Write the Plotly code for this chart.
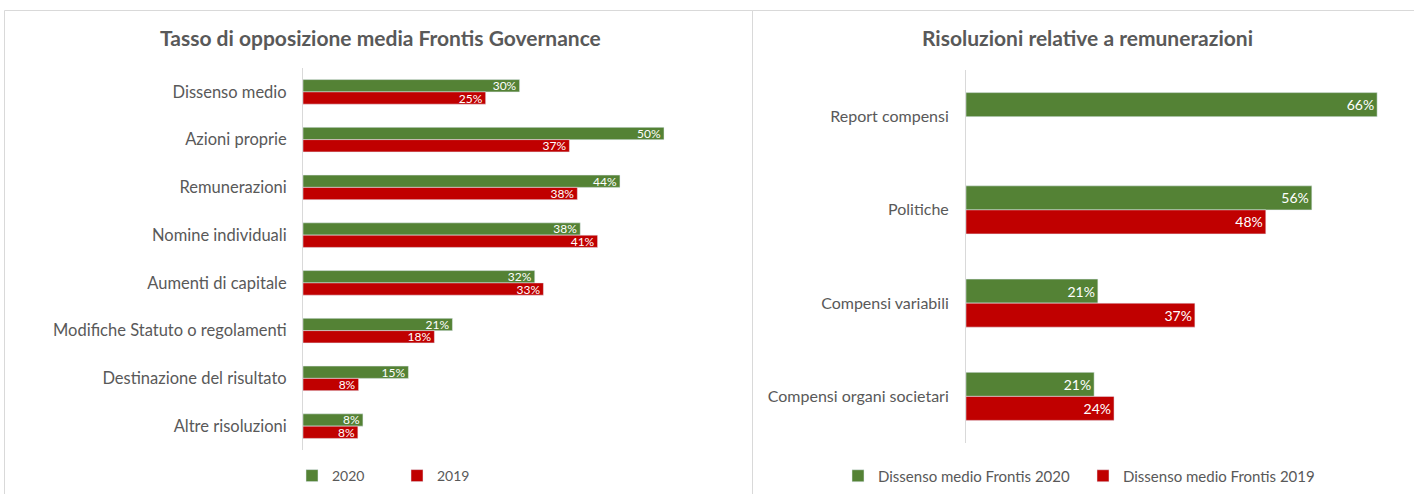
import plotly.graph_objects as go

# ---- data ----
cats_left = ["Dissenso medio", "Azioni proprie", "Remunerazioni", "Nomine individuali",
             "Aumenti di capitale", "Modifiche Statuto o regolamenti",
             "Destinazione del risultato", "Altre risoluzioni"]
left_2020 = [0.300, 0.500, 0.439, 0.384, 0.321, 0.207, 0.146, 0.083]
left_2019 = [0.253, 0.369, 0.380, 0.408, 0.333, 0.182, 0.077, 0.076]

cats_right = ["Report compensi", "Politiche", "Compensi variabili", "Compensi organi societari"]
right_2020 = [0.661, 0.556, 0.212, 0.206]
right_2019 = [None, 0.482, 0.368, 0.238]

title_left = "Tasso di opposizione media Frontis Governance"
title_right = "Risoluzioni relative a remunerazioni"
names_left = ["2020", "2019"]
names_right = ["Dissenso medio Frontis 2020", "Dissenso medio Frontis 2019"]

# ---- style ----
W, H = 1414, 494
GREEN = "#548235"
RED = "#C00000"
GREY = "#595959"
LINE = "#D9D9D9"
FONT = "Lato"

def px(x):
    return x / W

def py(y):
    return 1 - y / H

def bar(y, x, name, color, xa, ya, leg, size):
    return go.Bar(y=y, x=x, name=name, orientation="h", marker_color=color,
                  xaxis=xa, yaxis=ya, legend=leg,
                  texttemplate="%{x:.0%}", textposition="inside", insidetextanchor="end",
                  textfont=dict(color="white", size=size, family=FONT), cliponaxis=False)

fig = go.Figure()
fig.add_trace(bar(cats_left, left_2020, names_left[0], GREEN, "x", "y", "legend", 12))
fig.add_trace(bar(cats_left, left_2019, names_left[1], RED, "x", "y", "legend", 12))
fig.add_trace(bar(cats_right, right_2020, names_right[0], GREEN, "x2", "y2", "legend2", 14))
fig.add_trace(bar(cats_right, right_2019, names_right[1], RED, "x2", "y2", "legend2", 14))

fig.update_layout(
    width=W, height=H,
    margin=dict(l=0, r=0, t=0, b=0),
    paper_bgcolor="white", plot_bgcolor="white",
    font=dict(family=FONT, color=GREY, size=16),
    barmode="group", bargap=0.485, bargroupgap=0,
    uniformtext=dict(minsize=12, mode="show"),
    xaxis=dict(domain=[px(303), px(303 + 0.6 * 722)], range=[0, 0.6],
               visible=False, showgrid=False, zeroline=False),
    yaxis=dict(domain=[py(450), py(68)], autorange="reversed", showline=True,
               linecolor=LINE, linewidth=1, showgrid=False, ticks="",
               ticklabelstandoff=12, tickfont=dict(size=16.5, color=GREY, family=FONT)),
    xaxis2=dict(domain=[px(966), px(966 + 0.7 * 622)], range=[0, 0.7], anchor="y2",
                visible=False, showgrid=False, zeroline=False),
    yaxis2=dict(domain=[py(443), py(70)], anchor="x2", autorange="reversed", showline=True,
                linecolor=LINE, linewidth=1, showgrid=False, ticks="",
                ticklabelstandoff=13, tickfont=dict(size=16, color=GREY, family=FONT)),
    legend=dict(orientation="h", x=px(292), y=py(476), xanchor="left", yanchor="middle",
                font=dict(size=14, color=GREY, family=FONT), entrywidth=60,
                bgcolor="rgba(0,0,0,0)"),
    legend2=dict(orientation="h", x=px(838), y=py(476), xanchor="left", yanchor="middle",
                 font=dict(size=15, color=GREY, family=FONT), entrywidth=200,
                 bgcolor="rgba(0,0,0,0)"),
    shapes=[
        dict(type="rect", xref="paper", yref="paper", x0=px(4.5), x1=px(752.5),
             y0=py(520), y1=py(10.5), line=dict(color=LINE, width=1), layer="below"),
        dict(type="rect", xref="paper", yref="paper", x0=px(752.5), x1=px(1430),
             y0=py(520), y1=py(10.5), line=dict(color=LINE, width=1), layer="below"),
    ],
    annotations=[
        dict(text="<b>" + title_left + "</b>", xref="paper", yref="paper", x=px(381), y=py(38),
             xanchor="center", yanchor="middle", showarrow=False,
             font=dict(size=21, color=GREY, family=FONT)),
        dict(text="<b>" + title_right + "</b>", xref="paper", yref="paper", x=px(1087), y=py(38),
             xanchor="center", yanchor="middle", showarrow=False,
             font=dict(size=21, color=GREY, family=FONT)),
    ],
)

fig.write_html("out.html", config={"displayModeBar": False},
               post_script="document.body.style.margin='0';document.body.style.overflow='hidden';")
